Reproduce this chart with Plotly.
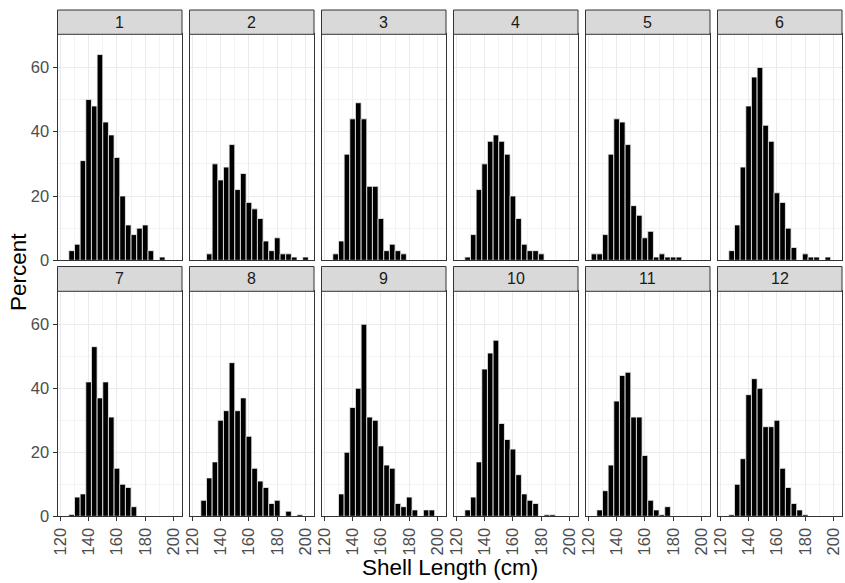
import plotly.graph_objects as go

# ---- data ----
bin_centers = [124, 128, 132, 136, 140, 144, 148, 152, 156, 160,
               164, 168, 172, 176, 180, 184, 188, 192, 196, 200]
panel_labels = ["1", "2", "3", "4", "5", "6", "7", "8", "9", "10", "11", "12"]

p1 = [0, 3, 5, 31, 50, 48, 64, 43, 39, 32, 20, 11, 8, 10, 11, 3, 0, 1, 0, 0]
p2 = [0, 0, 2, 30, 25, 29, 36, 22, 27, 18, 16, 13, 6, 3, 7, 2, 2, 1, 0, 1]
p3 = [0, 2, 6, 33, 44, 49, 44, 23, 23, 13, 3, 5, 3, 2, 0, 0, 0, 0, 0, 0]
p4 = [0, 1, 8, 22, 30, 37, 39, 37, 33, 20, 13, 5, 3, 3, 2, 0, 0, 0, 0, 0]
p5 = [2, 2, 8, 33, 44, 43, 36, 17, 14, 7, 9, 1, 2, 1, 1, 1, 0, 0, 0, 0]
p6 = [0, 3, 11, 29, 48, 57, 60, 42, 37, 21, 18, 10, 4, 0, 2, 1, 1, 0, 1, 0]
p7 = [0, 0.6, 6, 7, 42, 53, 37, 42, 31, 15, 10, 9, 3, 0, 0, 0, 0, 0, 0, 0]
p8 = [0, 5, 12, 17, 30, 33, 48, 33, 37, 25, 15, 11, 9, 4, 5, 0, 1.6, 0, 0.5, 0]
p9 = [0, 0, 7, 20, 34, 40, 60, 31, 30, 22, 16, 15, 4, 3, 6, 2, 0, 2, 2, 0]
p10 = [0, 2, 6, 17, 46, 51, 55, 29, 24, 21, 13, 7, 5, 4, 0, 0.5, 0.5, 0, 0, 0]
p11 = [0, 2, 8, 16, 36, 44, 45, 31, 31, 19, 5, 2, 0.5, 3, 0, 0, 0, 0, 0, 0]
p12 = [0, 0.5, 10, 18, 38, 43, 40, 28, 28, 30, 15, 9, 4, 2, 0.5, 0, 0, 0, 0, 0]
panels = [p1, p2, p3, p4, p5, p6, p7, p8, p9, p10, p11, p12]

x_ticks = [120, 140, 160, 180, 200]
x_minor = [130, 150, 170, 190]
y_ticks = [0, 20, 40, 60]
y_minor = [10, 30, 50, 70]

# ---- layout geometry (pixels) ----
W, H = 845, 583
col_left0, col_step, col_w = 57.5, 132.0, 124.5
rows = [  # (strip_top, panel_top, panel_bottom)
    (10.0, 34.3, 260.3),
    (266.5, 291.3, 516.3),
]
FONT = "Liberation Sans, Arial, sans-serif"

fig = go.Figure()
layout = dict(
    width=W, height=H,
    margin=dict(l=0, r=0, t=0, b=0, autoexpand=False),
    paper_bgcolor="white", plot_bgcolor="white",
    showlegend=False,
    font=dict(family=FONT),
)
shapes = []
annotations = []

for i, vals in enumerate(panels):
    r, c = divmod(i, 6)
    n = i + 1
    xs = [b for b, v in zip(bin_centers, vals) if v > 0]
    ys = [v for v in vals if v > 0]
    fig.add_trace(go.Bar(
        x=xs, y=ys, width=[4] * len(xs),
        marker=dict(color="black", line=dict(color="#F0F0F0", width=0.8)),
        xaxis=f"x{n}", yaxis=f"y{n}", hoverinfo="skip",
    ))
    x0 = (col_left0 + c * col_step) / W
    x1 = (col_left0 + c * col_step + col_w) / W
    st, pt, pb = rows[r]
    y0 = 1 - pb / H
    y1 = 1 - pt / H
    sx = "" if n == 1 else str(n)
    bottom = (r == 1)
    left = (c == 0)
    layout[f"xaxis{sx}"] = dict(
        domain=[x0, x1], range=[118, 206], anchor=f"y{n}",
        tickvals=x_ticks, ticktext=[str(t) for t in x_ticks],
        showticklabels=bottom, ticks="outside" if bottom else "",
        ticklen=4, tickcolor="#333333", tickangle=-90,
        tickfont=dict(size=16.5, color="#4D4D4D", family=FONT),
        showgrid=True, gridcolor="#EBEBEB", gridwidth=1,
        minor=dict(tickvals=x_minor, showgrid=True, gridcolor="#F3F3F3", gridwidth=1),
        showline=True, linecolor="#333333", linewidth=1, mirror=True,
        zeroline=False, fixedrange=True, automargin=False,
    )
    layout[f"yaxis{sx}"] = dict(
        domain=[y0, y1], range=[0, 70.3], anchor=f"x{n}",
        tickvals=y_ticks, ticktext=[str(t) for t in y_ticks],
        showticklabels=left, ticks="outside" if left else "",
        ticklen=4, tickcolor="#333333",
        tickfont=dict(size=16.5, color="#4D4D4D", family=FONT),
        showgrid=True, gridcolor="#EBEBEB", gridwidth=1,
        minor=dict(tickvals=y_minor, showgrid=True, gridcolor="#F3F3F3", gridwidth=1),
        showline=True, linecolor="#333333", linewidth=1, mirror=True,
        zeroline=False, fixedrange=True, automargin=False,
    )
    # strip
    shapes.append(dict(
        type="rect", xref="paper", yref="paper",
        x0=x0, x1=x1, y0=1 - pt / H, y1=1 - st / H,
        fillcolor="#D9D9D9", line=dict(color="#333333", width=1), layer="above",
    ))
    annotations.append(dict(
        text=panel_labels[i], xref="paper", yref="paper",
        x=(x0 + x1) / 2, y=1 - (st + pt) / 2 / H,
        xanchor="center", yanchor="middle", showarrow=False,
        font=dict(size=16, color="#1A1A1A", family=FONT),
    ))

annotations.append(dict(
    text="Percent", xref="paper", yref="paper",
    x=18 / W, y=1 - 272 / H, textangle=-90,
    xanchor="center", yanchor="middle", showarrow=False,
    font=dict(size=22.5, color="black", family=FONT),
))
annotations.append(dict(
    text="Shell Length (cm)", xref="paper", yref="paper",
    x=(col_left0 + (col_left0 + 5 * col_step + col_w)) / 2 / W, y=1 - 567 / H,
    xanchor="center", yanchor="middle", showarrow=False,
    font=dict(size=22.5, color="black", family=FONT),
))

layout["shapes"] = shapes
layout["annotations"] = annotations
fig.update_layout(**layout)
fig.write_html("out.html")
